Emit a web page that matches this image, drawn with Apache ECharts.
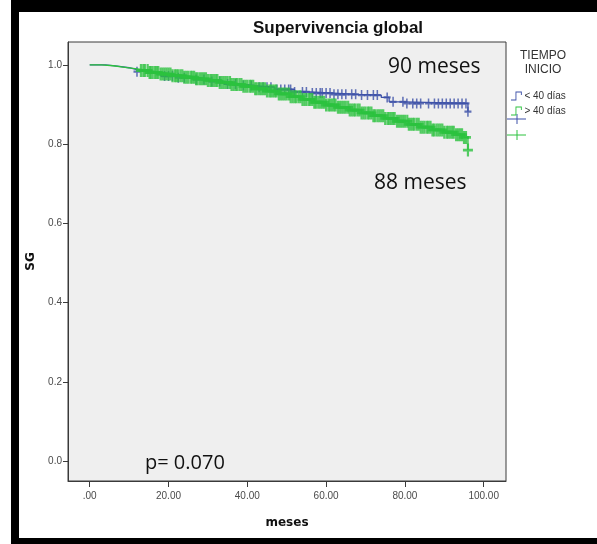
<!DOCTYPE html>
<html>
<head>
<meta charset="utf-8">
<script src="https://cdn.jsdelivr.net/npm/echarts@6/dist/echarts.min.js"></script>
<style>
  html, body { margin: 0; padding: 0; background: #ffffff; }
  #chart { width: 597px; height: 544px; }
</style>
</head>
<body>
<div id="chart"></div>
<script>
// Kaplan-Meier overall survival by time to treatment start
const groupNames = ['< 40 días', '> 40 días'];
const xTicks = [0, 20, 40, 60, 80, 100];
const yTicks = [0, 0.2, 0.4, 0.6, 0.8, 1.0];

// Survival steps: [month, survival after the event]
const stepsLt40 = [
  [0, 1.0], [4, 0.997], [7, 0.993], [10, 0.988], [12, 0.983], [15, 0.978],
  [18, 0.972], [22, 0.968], [26, 0.963], [30, 0.958], [34, 0.952], [38, 0.948],
  [42, 0.944], [47, 0.938], [52, 0.932], [56, 0.929], [62, 0.926], [68, 0.924],
  [74, 0.918], [76, 0.907], [80, 0.903], [96, 0.882]
];
const stepsGt40 = [
  [0, 1.0], [3, 0.998], [6, 0.994], [9, 0.99], [12, 0.986], [15, 0.981],
  [18, 0.977], [21, 0.973], [24, 0.969], [27, 0.965], [30, 0.961], [33, 0.956],
  [36, 0.951], [39, 0.946], [42, 0.94], [45, 0.934], [48, 0.927], [51, 0.92],
  [54, 0.913], [57, 0.906], [60, 0.899], [63, 0.893], [66, 0.886], [69, 0.879],
  [72, 0.872], [75, 0.865], [78, 0.858], [81, 0.85], [84, 0.843], [87, 0.836],
  [90, 0.83], [93, 0.824], [95, 0.817], [96, 0.785]
];

// Censored follow-up times (months)
const censorLt40 = [
  12, 19, 20, 21, 22.5, 24, 27, 29, 31, 33, 35, 37, 39, 41, 43, 44, 45, 46,
  47.5, 48.5, 49.5, 50.5, 51, 52, 54, 55, 56.5, 57.5, 58.5, 59, 60, 61, 62,
  63, 64, 65, 66.5, 67.5, 69, 70.5, 72, 73, 75.5, 77, 79.5, 80.5, 82, 83, 84,
  86, 87.5, 88.5, 89.5, 90.5, 91.5, 92.5, 93.5, 94.5, 95.5, 96
];
const censorGt40 = [
  13, 13.6, 14, 14.7, 15.2, 15.5, 16, 16.6, 17, 17.4, 18, 18.5, 19, 19.5, 20, 20.5,
  21, 21.6, 22, 22.4, 23, 23.5, 24, 24.5, 25, 25.6, 26, 26.5, 27, 27.4, 28, 28.5,
  29, 29.5, 30, 30.6, 31, 31.5, 32, 32.4, 33, 33.5, 34, 34.5, 35, 35.6, 36, 36.5,
  37, 37.4, 38, 38.5, 39, 39.5, 40, 40.6, 41, 41.5, 42, 42.4, 43, 43.5, 44, 44.5,
  45, 45.6, 46, 46.5, 47, 47.4, 48, 48.5, 49, 49.5, 50, 50.6, 51, 51.5, 52, 52.4,
  53, 53.5, 54, 54.5, 55, 55.6, 56, 56.5, 57, 57.4, 58, 58.5, 59, 59.5, 60, 60.6,
  61, 61.5, 62, 62.4, 63, 63.5, 64, 64.5, 65, 65.6, 66, 66.5, 67, 67.4, 68, 68.5,
  69, 69.5, 70, 70.6, 71, 71.5, 72, 72.4, 73, 73.5, 74, 74.5, 75, 75.6, 76, 76.5,
  77, 77.4, 78, 78.5, 79, 79.5, 80, 80.6, 81, 81.5, 82, 82.4, 83, 83.5, 84, 84.5,
  85, 85.6, 86, 86.5, 87, 87.4, 88, 88.5, 89, 89.5, 90, 90.6, 91, 91.5, 92, 92.4,
  93, 93.5, 94, 94.5, 95, 95.5, 96
];

const colorLt40 = '#3d51a8';
const colorGt40 = '#2cc23e';

// a censored case sits on the survival curve at its follow-up time
function survivalAt(steps, t) {
  let s = steps[0][1];
  for (const [time, value] of steps) {
    if (time <= t) s = value; else break;
  }
  return s;
}
const censorPoints = (steps, times) => times.map(t => [t, survivalAt(steps, t)]);

const crossPath = 'path://M3.9,0H6.1V3.9H10V6.1H6.1V10H3.9V6.1H0V3.9H3.9Z';
const stepIcon = 'path://M0,9H5V0H12V4H11V1H6V10H0Z';
const axisFont = { fontFamily: 'Liberation Sans, Arial, sans-serif', fontSize: 10, color: '#4a4a4a' };
const noteFont = 'Open Sans, sans-serif';

const chart = echarts.init(document.getElementById('chart'), null, { renderer: 'canvas' });

chart.setOption({
  animation: false,
  backgroundColor: '#ffffff',
  title: {
    text: 'Supervivencia global',
    left: 248,
    top: 15,
    textStyle: { fontFamily: 'Liberation Sans, Arial, sans-serif', fontSize: 17, fontWeight: 'bold', color: '#111' }
  },
  grid: {
    left: 68, right: 91, top: 42, bottom: 63,
    show: true,
    backgroundColor: '#efefef',
    borderColor: '#3a3a3a',
    borderWidth: 1
  },
  legend: {
    orient: 'vertical',
    left: 506,
    top: 86,
    itemWidth: 12,
    itemHeight: 9,
    itemGap: 5,
    textStyle: { fontFamily: 'Liberation Sans, Arial, sans-serif', fontSize: 10, color: '#333', padding: [0, 0, 0, -3] },
    data: [
      { name: groupNames[0], icon: stepIcon, itemStyle: { color: colorLt40 } },
      { name: groupNames[1], icon: stepIcon, itemStyle: { color: colorGt40 } }
    ]
  },
  xAxis: {
    type: 'value',
    min: -5.51,
    max: 105.66,
    name: 'meses',
    nameLocation: 'middle',
    nameGap: 36,
    nameTextStyle: { fontFamily: 'DejaVu Sans, Verdana, sans-serif', fontSize: 12, fontWeight: 'bold', color: '#111' },
    splitLine: { show: false },
    axisLine: { show: true, onZero: false, lineStyle: { color: '#3a3a3a' } },
    axisTick: { show: true, inside: false, length: 6, customValues: xTicks, lineStyle: { color: '#3a3a3a' } },
    axisLabel: Object.assign({
      customValues: xTicks,
      margin: 10,
      formatter: v => (v === 0 ? '.00' : v.toFixed(2))
    }, axisFont)
  },
  yAxis: {
    type: 'value',
    min: -0.0505,
    max: 1.058,
    name: 'SG',
    nameLocation: 'middle',
    nameRotate: 90,
    nameGap: 31,
    nameTextStyle: { fontFamily: 'DejaVu Sans, Verdana, sans-serif', fontSize: 12, fontWeight: 'bold', color: '#111' },
    splitLine: { show: false },
    axisLine: { show: true, onZero: false, lineStyle: { color: '#3a3a3a' } },
    axisTick: { show: true, inside: false, length: 5, customValues: yTicks, lineStyle: { color: '#3a3a3a' } },
    axisLabel: Object.assign({
      customValues: yTicks,
      margin: 6,
      formatter: v => v.toFixed(1)
    }, axisFont)
  },
  series: [
    {
      name: groupNames[0],
      type: 'line',
      step: 'end',
      showSymbol: false,
      color: colorLt40,
      lineStyle: { width: 1.3 },
      data: stepsLt40,
      z: 3
    },
    {
      name: groupNames[0] + ' censurado',
      type: 'scatter',
      symbol: crossPath,
      symbolSize: [7, 10],
      itemStyle: { color: colorLt40 },
      data: censorPoints(stepsLt40, censorLt40),
      z: 4
    },
    {
      name: groupNames[1],
      type: 'line',
      step: 'end',
      showSymbol: false,
      color: colorGt40,
      lineStyle: { width: 1.3 },
      data: stepsGt40,
      z: 5
    },
    {
      name: groupNames[1] + ' censurado',
      type: 'scatter',
      symbol: crossPath,
      symbolSize: [10, 13],
      itemStyle: { color: colorGt40 },
      data: censorPoints(stepsGt40, censorGt40),
      z: 6
    }
  ],
  graphic: [
    // black frame around the figure
    { type: 'rect', shape: { x: 11, y: 0, width: 586, height: 12 }, style: { fill: '#000' }, z: 100 },
    { type: 'rect', shape: { x: 11, y: 0, width: 8, height: 544 }, style: { fill: '#000' }, z: 100 },
    { type: 'rect', shape: { x: 11, y: 538, width: 586, height: 6 }, style: { fill: '#000' }, z: 100 },
    // legend heading
    { type: 'text', x: 543, y: 50, style: { text: 'TIEMPO', align: 'center', fill: '#333', font: '12px Liberation Sans, Arial, sans-serif' } },
    { type: 'text', x: 543, y: 64, style: { text: 'INICIO', align: 'center', fill: '#333', font: '12px Liberation Sans, Arial, sans-serif' } },
    // censored-case keys
    { type: 'line', shape: { x1: 507, y1: 119, x2: 526, y2: 119 }, style: { stroke: colorLt40, lineWidth: 1 } },
    { type: 'line', shape: { x1: 517, y1: 114, x2: 517, y2: 124 }, style: { stroke: colorLt40, lineWidth: 1 } },
    { type: 'line', shape: { x1: 507, y1: 135, x2: 526, y2: 135 }, style: { stroke: colorGt40, lineWidth: 1 } },
    { type: 'line', shape: { x1: 517, y1: 130, x2: 517, y2: 140 }, style: { stroke: colorGt40, lineWidth: 1 } },
    // annotations
    { type: 'text', x: 388, y: 57, style: { text: '90 meses', fill: '#111', font: '21px ' + noteFont } },
    { type: 'text', x: 374, y: 173, style: { text: '88 meses', fill: '#111', font: '21px ' + noteFont } },
    { type: 'text', x: 145, y: 453, style: { text: 'p= 0.070', fill: '#111', font: '20px ' + noteFont } }
  ]
});
</script>
</body>
</html>
